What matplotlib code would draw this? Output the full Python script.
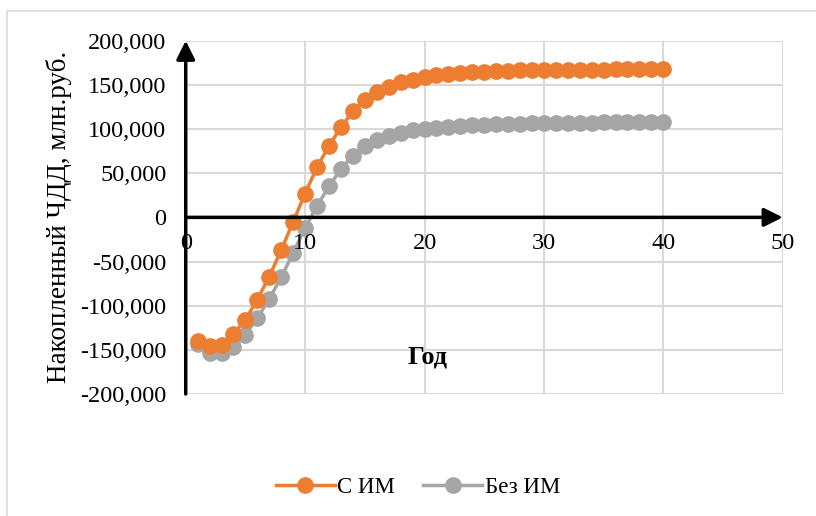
import matplotlib.pyplot as plt
from matplotlib.patches import Rectangle
from matplotlib.ticker import FuncFormatter

# --------------------------
# Data
# --------------------------
years = list(range(1, 41))

npv_with = [-140000, -146000, -145000, -132000, -116000, -93000, -67000, -37000, -5000, 27000,
            57000, 81000, 102000, 120000, 133000, 142000, 148000, 153000, 156000, 159000,
            161000, 162500, 163500, 164300, 165000, 165500, 166000, 166300, 166600, 166800,
            167000, 167100, 167200, 167300, 167400, 167500, 167500, 167600, 167600, 167700]

npv_without = [-143000, -153000, -154000, -147000, -133000, -114000, -92000, -68000, -40000, -12000,
               13000, 35000, 55000, 70000, 81000, 88000, 92500, 96000, 98500, 100000,
               101500, 102700, 103600, 104300, 104900, 105400, 105800, 106100, 106400, 106700,
               106900, 107100, 107300, 107400, 107500, 107600, 107700, 107800, 107900, 108000]

labels = ["С ИМ", "Без ИМ"]
colors = ["#ED7D31", "#A5A5A5"]

x_ticks = [0, 10, 20, 30, 40, 50]
y_ticks = list(range(-200000, 200001, 50000))

plt.rcParams["font.family"] = ["Liberation Serif", "DejaVu Serif"]

fig = plt.figure(figsize=(8.16, 5.16), dpi=100)
ax = fig.add_axes([0.2276, 0.2364, 0.9592 - 0.2276, 0.9211 - 0.2364])

# outer frame (Excel chart border)
fig.patches.append(Rectangle((0.0086, -0.05), 1.1, 0.9787 + 0.05, transform=fig.transFigure,
                             fill=False, edgecolor="#d9d9d9", lw=1.2))

ax.plot(years, npv_with, color=colors[0], lw=2.5, marker="o", ms=11, label=labels[0], zorder=4)
ax.plot(years, npv_without, color=colors[1], lw=2.5, marker="o", ms=11, label=labels[1], zorder=3)

ax.set_xlim(0, 50)
ax.set_ylim(-200000, 200000)
ax.set_xticks(x_ticks)
ax.set_yticks(y_ticks)
ax.grid(True, color="#d9d9d9", lw=1.5)
ax.set_axisbelow(True)
for s in ax.spines.values():
    s.set_visible(False)
ax.tick_params(length=0, labelsize=17.5)
ax.tick_params(axis="x", labelbottom=False)
ax.yaxis.set_major_formatter(FuncFormatter(lambda v, p: "0" if v == 0 else f"{int(v):,}"))
ax.tick_params(axis="y", pad=14)

# x labels just below the zero line
for t in x_ticks:
    ax.annotate(str(t), xy=(t, 0), xytext=(0, -11), textcoords="offset points",
                ha="center", va="top", fontsize=17.5, clip_on=False)

# axes with arrows
arrow = dict(arrowstyle="-|>", lw=2.5, color="black", mutation_scale=28, shrinkA=0, shrinkB=0)
ax.annotate("", xy=(50, 0), xytext=(0, 0), arrowprops=arrow, zorder=5)
ax.annotate("", xy=(0, 200000), xytext=(0, -200000), arrowprops=arrow, zorder=5)

ax.set_ylabel("Накопленный ЧДД, млн.руб.", fontsize=19.5, labelpad=6)
fig.text(0.5245, 0.308, "Год", fontsize=19, fontweight="bold", ha="center", va="center")

fig.legend(loc="center", bbox_to_anchor=(0.512, 0.056), ncol=2, frameon=False, fontsize=16.5,
           handlelength=2.6, columnspacing=1.2, handletextpad=0.1)

fig.savefig("out.png", dpi=100)
